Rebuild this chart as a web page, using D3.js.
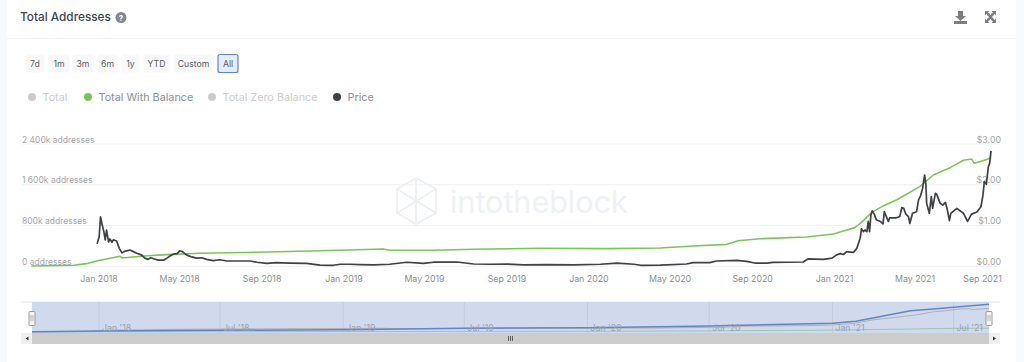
<!DOCTYPE html>
<html><head><meta charset="utf-8">
<style>html,body{margin:0;padding:0;background:#fff}svg{display:block}text{font-family:Inter,"Noto Sans",sans-serif}</style>
<script src="https://cdn.jsdelivr.net/npm/d3@7"></script></head><body>
<svg id="c" width="1024" height="362"></svg>
<script>
const balanceDates=["2017-09-23","2017-11-25","2017-12-14","2017-12-29","2018-01-13","2018-02-02","2018-02-06","2018-03-09","2018-04-13","2018-06-01","2018-09-09","2018-12-27","2019-03-01","2019-03-11","2019-05-15","2019-07-14","2019-10-21","2020-01-28","2020-04-17","2020-06-05","2020-07-25","2020-08-02","2020-08-11","2020-09-13","2020-11-21","2020-12-31","2021-01-15","2021-02-01","2021-02-11","2021-02-26","2021-03-16","2021-04-04","2021-04-19","2021-05-09","2021-05-29","2021-06-23","2021-07-13","2021-07-25","2021-07-29","2021-08-11","2021-08-23"];
const balanceValues=[6,20,52,105,144,196,163,203,229,255,281,314,340,314,314,334,353,347,359,398,431,463,502,541,575,634,693,759,863,1053,1190,1301,1413,1563,1792,1936,2080,2106,2021,2073,2132];
const priceDates=["2017-12-30","2018-01-02","2018-01-04","2018-01-06","2018-01-09","2018-01-11","2018-01-13","2018-01-16","2018-01-18","2018-01-21","2018-01-23","2018-01-28","2018-02-01","2018-02-05","2018-02-08","2018-02-12","2018-02-17","2018-02-22","2018-02-27","2018-03-06","2018-03-11","2018-03-16","2018-03-20","2018-03-25","2018-03-31","2018-04-08","2018-04-13","2018-04-18","2018-04-23","2018-04-28","2018-05-02","2018-05-06","2018-05-12","2018-05-20","2018-05-27","2018-06-04","2018-06-11","2018-06-21","2018-07-01","2018-07-11","2018-07-21","2018-08-15","2018-08-25","2018-09-09","2018-09-23","2018-10-13","2018-11-07","2018-11-27","2018-12-17","2018-12-27","2019-01-11","2019-01-26","2019-02-15","2019-03-11","2019-04-05","2019-04-30","2019-05-15","2019-06-19","2019-07-14","2019-08-08","2019-09-01","2019-09-26","2019-10-31","2019-12-10","2020-01-19","2020-02-13","2020-03-09","2020-03-19","2020-04-17","2020-05-26","2020-06-05","2020-06-30","2020-07-10","2020-08-09","2020-08-24","2020-09-05","2020-09-23","2020-10-02","2020-11-16","2020-11-23","2020-12-16","2020-12-29","2021-01-05","2021-01-10","2021-01-15","2021-01-20","2021-01-25","2021-01-30","2021-02-04","2021-02-09","2021-02-11","2021-02-14","2021-02-16","2021-02-19","2021-02-21","2021-02-23","2021-02-25","2021-02-27","2021-03-02","2021-03-05","2021-03-11","2021-03-15","2021-03-17","2021-03-23","2021-03-25","2021-04-04","2021-04-09","2021-04-12","2021-04-15","2021-04-18","2021-04-22","2021-04-24","2021-04-28","2021-05-04","2021-05-07","2021-05-10","2021-05-13","2021-05-16","2021-05-18","2021-05-19","2021-05-23","2021-05-26","2021-05-28","2021-06-01","2021-06-03","2021-06-08","2021-06-12","2021-06-16","2021-06-19","2021-06-22","2021-06-24","2021-07-03","2021-07-13","2021-07-19","2021-07-25","2021-08-02","2021-08-08","2021-08-11","2021-08-13","2021-08-16","2021-08-19","2021-08-21","2021-08-23"];
const priceValues=[0.55,0.73,1.21,1.05,0.85,0.65,0.89,0.60,0.67,0.59,0.65,0.62,0.44,0.33,0.36,0.38,0.40,0.36,0.32,0.28,0.20,0.17,0.21,0.18,0.15,0.15,0.20,0.26,0.30,0.31,0.38,0.36,0.28,0.23,0.20,0.21,0.17,0.14,0.16,0.13,0.13,0.13,0.10,0.07,0.09,0.08,0.07,0.03,0.025,0.05,0.05,0.04,0.033,0.05,0.10,0.07,0.10,0.105,0.057,0.05,0.057,0.033,0.04,0.033,0.05,0.08,0.05,0.025,0.03,0.056,0.09,0.09,0.13,0.147,0.12,0.08,0.08,0.098,0.105,0.18,0.17,0.20,0.28,0.31,0.29,0.36,0.35,0.34,0.44,0.69,0.92,0.85,0.89,0.85,1.10,0.85,1.26,1.36,1.28,1.14,1.10,1.04,1.34,1.10,1.19,1.19,1.22,1.44,1.42,1.28,1.22,1.05,1.30,1.34,1.63,1.73,1.91,2.24,2.00,1.55,1.30,1.71,1.42,1.79,1.77,1.55,1.50,1.57,1.38,1.12,1.30,1.42,1.30,1.10,1.28,1.33,1.46,1.75,2.08,2.01,2.44,2.53,2.83];
const totalDates=["2017-09-23","2018-01-01","2018-07-01","2019-01-01","2019-07-01","2020-01-01","2020-07-01","2021-01-01","2021-02-05","2021-04-28","2021-06-01","2021-07-01","2021-08-23"];
const totalValues=[27,90,153,207,333,387,540,783,963,1917,2070,2223,2493];
const zeroDates=["2017-09-23","2018-01-01","2019-01-01","2020-01-01","2020-07-01","2021-01-01","2021-07-01","2021-08-23"];
const zeroValues=[5,20,40,60,100,170,330,345];
const addressTicks=[0,800,1600,2400];
const priceTicks=[0,1,2,3];
const axisDates=["2018-01-01","2018-05-01","2018-09-01","2019-01-01","2019-05-01","2019-09-01","2020-01-01","2020-05-01","2020-09-01","2021-01-01","2021-05-01","2021-09-01"];
const navDates=["2018-01-01","2018-07-01","2019-01-01","2019-07-01","2020-01-01","2020-07-01","2021-01-01","2021-07-01"];
const rangeButtons=["7d","1m","3m","6m","1y","YTD","Custom","All"];
const legendNames=["Total","Total With Balance","Total Zero Balance","Price"];

const p=d3.utcParse("%Y-%m-%d");
const svg=d3.select("#c");
svg.append("rect").attr("width",1024).attr("height",362).attr("fill","#f6f9fe");
svg.append("rect").attr("x",7).attr("width",1009).attr("height",362).attr("fill","#fff");
svg.append("line").attr("x1",7).attr("x2",1016).attr("y1",38.5).attr("y2",38.5).attr("stroke","#f0f1f3");

// header
svg.append("text").attr("x",20).attr("y",21).attr("font-size",11.8).attr("font-weight",500).attr("fill","#3d4450").text("Total Addresses");
svg.append("circle").attr("cx",121).attr("cy",17.5).attr("r",5.5).attr("fill","#85898e");
svg.append("text").attr("x",121).attr("y",20.5).attr("text-anchor","middle").attr("font-size",8).attr("font-weight",700).attr("fill","#fff").text("?");
const icons=svg.append("g").attr("fill","#7b7f84");
icons.append("path").attr("d","M958 11h5v5h3l-5.5 5-5.5-5h3zM954 21h13v3h-13z");
icons.append("path").attr("d","M985 11h4.5l-1.4 1.4 2 2-1.7 1.7-2-2-1.4 1.4zM996 11v4.500l-1.400-1.400-2 2-1.700-1.700 2-2-1.400-1.400zM985 23v-4.500l1.400 1.400 2-2 1.700 1.700-2 2 1.400 1.400zM996 23h-4.500l1.400-1.400-2-2 1.700-1.700 2 2 1.400-1.400z");
icons.append("path").attr("d","M988 14L993 20M993 14L988 20").attr("stroke","#7b7f84").attr("stroke-width",2.4);

// range buttons
const btnX=[25.5,48.5,72.5,97.5,121.5,143.5,173.5,218], btnW=[19,21,21,20,18,26,40,20];
const btns=svg.append("g").selectAll("g").data(rangeButtons).join("g");
btns.append("rect").attr("x",(d,i)=>btnX[i]).attr("y",54.5).attr("width",(d,i)=>btnW[i]).attr("height",18).attr("rx",2)
 .attr("fill",d=>d==="All"?"#e6ebf8":"#f8f8f8").attr("stroke",d=>d==="All"?"#6380cf":"none").attr("stroke-width",1.2);
btns.append("text").attr("x",(d,i)=>btnX[i]+btnW[i]/2).attr("y",67).attr("text-anchor","middle").attr("font-size",8.7).attr("fill","#5a5f66").text(d=>d);

// legend
const legX=[32,88,212,337], legCol=["#cccccc","#7cc35b","#cccccc","#3f4145"], legTxt=["#cccccc","#8b9096","#cccccc","#8b9096"];
const leg=svg.append("g").selectAll("g").data(legendNames).join("g");
leg.append("circle").attr("cx",(d,i)=>legX[i]).attr("cy",97).attr("r",4).attr("fill",(d,i)=>legCol[i]);
leg.append("text").attr("x",(d,i)=>legX[i]+10.5).attr("y",101).attr("font-size",10.8).attr("fill",(d,i)=>legTxt[i]).text(d=>d);

// scales
const x=d3.scaleUtc().domain([p("2018-01-01"),p("2021-01-01")]).range([98.5,834]);
const yA=d3.scaleLinear().domain([0,2400]).range([266.3,144]);
const yP=d3.scaleLinear().domain([0,3]).range([266.3,144]);

// grid
svg.append("g").selectAll("line").data(addressTicks).join("line").attr("x1",22).attr("x2",1000)
 .attr("y1",d=>yA(d)).attr("y2",d=>yA(d)).attr("stroke","#eff1f3").attr("stroke-width",1);

// watermark
const wm=svg.append("g").attr("fill","none").attr("stroke","#eceff3").attr("stroke-width",1.6);
wm.append("path").attr("d","M416 178L436 189V213L416 224L397 213V189ZM397 189L436 213M436 189L397 213M416 178V201M416 201V224M397 189L416 201");
svg.append("text").attr("x",450).attr("y",213).attr("font-size",30.5).attr("font-weight",400).attr("fill","#eef1f5").text("intotheblock");

// axis labels
const fmtK=d=>d3.format(",")(d).replace(","," ")+"k addresses";
svg.append("g").selectAll("text").data(addressTicks).join("text").attr("x",22).attr("y",d=>yA(d)-1.5)
 .attr("font-size",8.5).attr("fill","#a3a7ac").attr("xml:space","preserve").style("white-space","pre").text(d=>d===0?"0 addresses":fmtK(d));
svg.append("g").selectAll("text").data(priceTicks).join("text").attr("x",1001).attr("y",d=>yP(d)-1.5).attr("text-anchor","end")
 .attr("font-size",8.8).attr("fill","#a3a7ac").text(d=>"$"+d3.format(".2f")(d));

const xAxis=svg.append("g").attr("transform","translate(0,266.3)")
 .call(d3.axisBottom(x).tickValues(axisDates.map(p)).tickSize(0).tickPadding(9).tickFormat(d3.utcFormat("%b %Y")));
xAxis.select(".domain").remove();
xAxis.selectAll("text").attr("font-size",8.8).attr("fill","#8b9096").attr("font-family","Inter,'Noto Sans',sans-serif");
xAxis.selectAll(".tick:last-child text").attr("dx",-15);

// lines
const balance=balanceDates.map((d,i)=>({d:p(d),v:balanceValues[i]}));
const price=priceDates.map((d,i)=>({d:p(d),v:priceValues[i]}));
svg.append("path").datum(balance).attr("fill","none").attr("stroke","#7dc35c").attr("stroke-width",1.6).attr("stroke-linejoin","round")
 .attr("d",d3.line().x(d=>x(d.d)).y(d=>yA(d.v)));
svg.append("path").datum(price).attr("fill","none").attr("stroke","#3f4145").attr("stroke-width",1.7).attr("stroke-linejoin","round")
 .attr("d",d3.line().x(d=>x(d.d)).y(d=>yP(d.v)));

// navigator
const nx=d3.scaleUtc().domain([p("2017-09-23"),p("2021-08-23")]).range([32,989]);
const ny=d3.scaleLinear().domain([0,2700]).range([332,302]);
const nav=svg.append("g");
nav.append("line").attr("x1",21).attr("x2",1000).attr("y1",302).attr("y2",302).attr("stroke","#e6e8ec");
nav.append("rect").attr("x",32).attr("y",302).attr("width",957).attr("height",31).attr("fill","#d1daec");
nav.append("g").selectAll("line").data(navDates).join("line").attr("x1",d=>nx(p(d))).attr("x2",d=>nx(p(d))).attr("y1",302).attr("y2",333).attr("stroke","#c3cbdc");
const nl=d3.line().x(d=>nx(d.d)).y(d=>ny(d.v));
const series=(ds,vs)=>ds.map((d,i)=>({d:p(d),v:vs[i]}));
nav.append("path").datum(series(zeroDates,zeroValues)).attr("fill","none").attr("stroke","#9cc7b0").attr("d",nl);
nav.append("path").datum(balance).attr("fill","none").attr("stroke","#b3aeb0").attr("d",nl);
nav.append("path").datum(series(totalDates,totalValues)).attr("fill","none").attr("stroke","#5f87c8").attr("stroke-width",1.5).attr("d",nl);
nav.append("g").selectAll("text").data(navDates).join("text").attr("x",d=>nx(p(d))+3).attr("y",331).attr("font-size",8.8).attr("fill","#9aa3b5")
 .text(d=>d3.utcFormat("%b '%y")(p(d)));
nav.append("rect").attr("x",21).attr("y",333).attr("width",979).attr("height",11).attr("fill","#cccccc");
nav.append("rect").attr("x",21).attr("y",333).attr("width",11).attr("height",11).attr("fill","#efefef");
nav.append("rect").attr("x",989).attr("y",333).attr("width",11).attr("height",11).attr("fill","#efefef");
nav.append("path").attr("d","M28.500 336.500v4l-3-2zM993 336.500v4l3-2z").attr("fill","#333");
nav.append("path").attr("d","M508.500 336v5M510.500 336v5M512.500 336v5").attr("stroke","#444").attr("stroke-width",.8);
[32,989].forEach(h=>{
 nav.append("rect").attr("x",h-3).attr("y",311.500).attr("width",6).attr("height",14).attr("rx",1).attr("fill","#f4f4f4").attr("stroke","#9a9a9a");
 nav.append("path").attr("d",`M${h-1} 315v6M${h+1} 315v6`).attr("stroke","#9a9a9a").attr("stroke-width",.7);
});
</script></body></html>
